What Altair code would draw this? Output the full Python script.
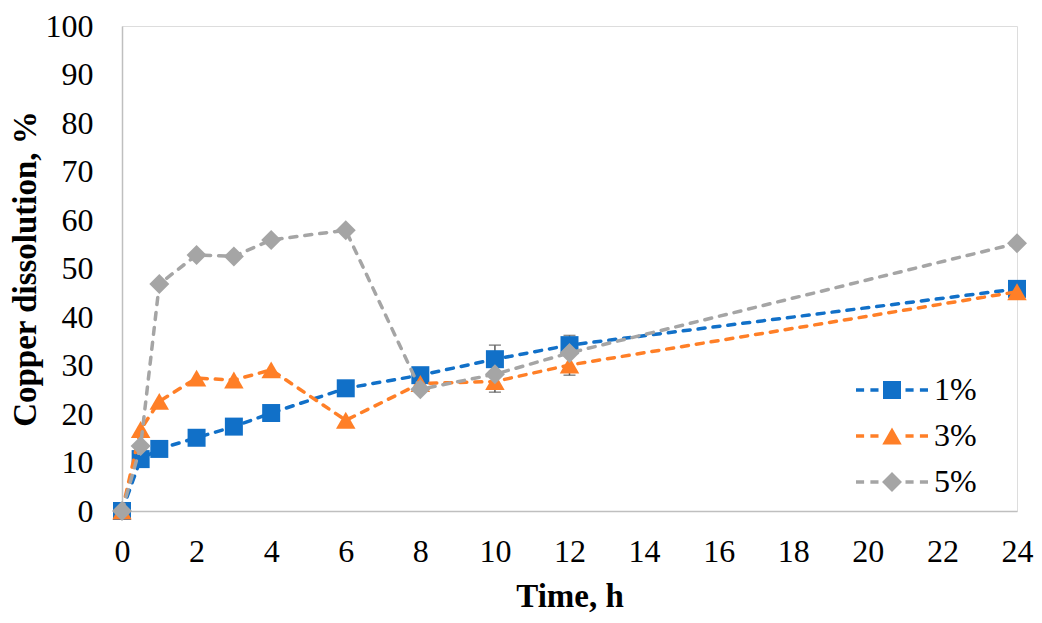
import altair as alt
import pandas as pd

# ---- data ----
time_h = [0, 0.5, 1, 2, 3, 4, 6, 8, 10, 12, 24]
cu_1 = [0, 10.7, 12.8, 15.1, 17.4, 20.2, 25.3, 28.0, 31.3, 34.2, 45.8]
cu_3 = [0, 16.8, 22.6, 27.4, 27.0, 29.1, 18.7, 26.3, 26.7, 30.1, 45.2]
cu_5 = [0, 13.4, 46.8, 52.8, 52.5, 55.9, 57.9, 25.1, 28.2, 32.6, 55.2]

series_names = ["1%", "3%", "5%"]
series_colors = ["#1170C8", "#FF7F27", "#A5A5A5"]
series_shapes = ["square", "triangle-up", "diamond"]
series_sizes = [324, 380, 400]

err_time = [10, 12]
err_1 = [2.9, 2.0]
err_3 = [2.2, 2.1]

x_ticks = list(range(0, 25, 2))
y_ticks = list(range(0, 101, 10))

# ---- tables ----
rows = []
for name, vals in zip(series_names, [cu_1, cu_3, cu_5]):
    for t, v in zip(time_h, vals):
        rows.append({"time": t, "value": v, "series": name})
df = pd.DataFrame(rows)

err_rows = []
for name, vals, errs in [("1%", cu_1, err_1), ("3%", cu_3, err_3)]:
    for t, e in zip(err_time, errs):
        v = vals[time_h.index(t)]
        err_rows.append({"time": t, "lo": v - e, "hi": v + e, "series": name})
err_df = pd.DataFrame(err_rows)

FONT = "Liberation Serif"

x_enc = alt.X(
    "time:Q",
    scale=alt.Scale(domain=[0, 24], nice=False, zero=False),
    axis=alt.Axis(
        values=x_ticks, title="Time, h", grid=False, ticks=False, tickSize=0,
        domainColor="#BFBFBF", domainWidth=1.5,
        labelFont=FONT, labelFontSize=32, labelColor="black", labelPadding=25,
        labelFlush=False, labelOverlap=False,
        titleFont=FONT, titleFontSize=33, titleFontWeight="bold", titleColor="black",
        titlePadding=13,
    ),
)
y_enc = alt.Y(
    "value:Q",
    scale=alt.Scale(domain=[0, 100], nice=False),
    axis=alt.Axis(
        values=y_ticks, title="Copper dissolution, %", grid=False, ticks=False, tickSize=0,
        domainColor="#BFBFBF", domainWidth=1.5,
        labelFont=FONT, labelFontSize=32, labelColor="black", labelPadding=29,
        labelFlush=False, labelOverlap=False,
        titleFont=FONT, titleFontSize=33, titleFontWeight="bold", titleColor="black",
        titlePadding=3,
    ),
)

layers = []
for name, color, shape, size in zip(series_names, series_colors, series_shapes, series_sizes):
    base = alt.Chart(df).transform_filter(alt.datum.series == name)
    line = base.mark_line(
        color=color, strokeWidth=3.5, strokeDash=[7, 8], strokeCap="round"
    ).encode(x=x_enc, y=y_enc)
    layers.append(line)
    if name in ("1%", "3%"):
        ebase = alt.Chart(err_df).transform_filter(alt.datum.series == name)
        rule = ebase.mark_rule(color="#595959", strokeWidth=1.5).encode(
            x="time:Q", y="lo:Q", y2="hi:Q"
        )
        caps = ebase.transform_fold(["lo", "hi"], as_=["end", "v"]).mark_tick(
            color="#595959", orient="horizontal", size=12, thickness=1.5
        ).encode(x="time:Q", y="v:Q")
        layers.extend([rule, caps])
    pts = base.mark_point(
        filled=True, shape=shape, size=size, color=color, opacity=1
    ).encode(x=x_enc, y=y_enc)
    layers.append(pts)

# legend: dashed line + marker symbols (custom paths, unit = marker half-size)
dashes = "M-4,-0.2H-3.1V0.2H-4Z M-2.4,-0.2H-1.5V0.2H-2.4Z M1.5,-0.2H2.4V0.2H1.5Z M3.1,-0.2H4V0.2H3.1Z "
legend_paths = [
    dashes + "M-1,-1H1V1H-1Z",
    dashes + "M0,-0.94L1.08,0.94H-1.08Z",
    dashes + "M0,-1.11L1.11,0L0,1.11L-1.11,0Z",
]
legend_def = alt.Legend(
    orient="none", legendX=754, legendY=348, symbolSize=324, symbolStrokeWidth=0,
    symbolOpacity=1, labelFont=FONT, labelFontSize=32, labelColor="black",
    labelOffset=26, rowPadding=14, padding=0,
)
legend_layer = alt.Chart(df).transform_filter("false").mark_point(
    filled=True, opacity=1
).encode(
    x=x_enc, y=y_enc,
    color=alt.Color("series:N", title=None,
                    scale=alt.Scale(domain=series_names, range=series_colors),
                    legend=legend_def),
    shape=alt.Shape("series:N", title=None,
                    scale=alt.Scale(domain=series_names, range=legend_paths),
                    legend=legend_def),
)
layers.append(legend_layer)

chart = alt.layer(*layers).properties(
    width=895, height=485,
    autosize=alt.AutoSizeParams(type="none"),
    padding={"left": 114, "top": 18, "right": 17, "bottom": 103},
).configure_view(stroke=None).configure(background="white")

chart.save("out.html", embed_options={"renderer": "svg", "actions": False})
